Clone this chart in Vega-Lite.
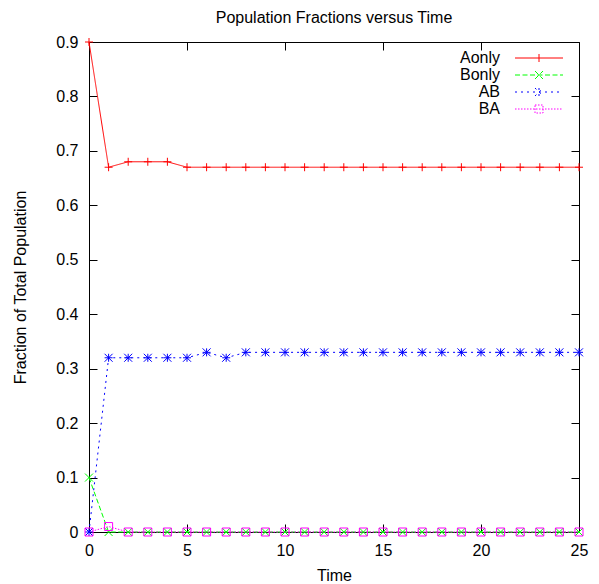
{
  "$schema": "https://vega.github.io/schema/vega-lite/v6.json",
  "width": 490,
  "height": 490,
  "autosize": {"type": "none"},
  "padding": {"left": 89, "top": 42, "right": 20, "bottom": 52},
  "background": "white",
  "config": {
    "font": "Liberation Sans",
    "view": {"stroke": "black", "strokeWidth": 1},
    "axis": {"grid": false, "domainColor": "black", "tickColor": "black", "labelColor": "black", "titleColor": "black", "labelFont": "Liberation Sans", "titleFont": "Liberation Sans", "labelFontSize": 16, "titleFontSize": 16, "titleFontWeight": "normal", "labelFlush": false}
  },
  "title": {"text": "Population Fractions versus Time", "fontSize": 16, "fontWeight": "normal", "font": "Liberation Sans", "color": "black", "anchor": "middle", "offset": 8},
  "data": {"values": [
    {"t":0,"s":"Aonly","v":0.9},{"t":1,"s":"Aonly","v":0.67},{"t":2,"s":"Aonly","v":0.68},{"t":3,"s":"Aonly","v":0.68},{"t":4,"s":"Aonly","v":0.68},{"t":5,"s":"Aonly","v":0.67},{"t":6,"s":"Aonly","v":0.67},{"t":7,"s":"Aonly","v":0.67},{"t":8,"s":"Aonly","v":0.67},{"t":9,"s":"Aonly","v":0.67},{"t":10,"s":"Aonly","v":0.67},{"t":11,"s":"Aonly","v":0.67},{"t":12,"s":"Aonly","v":0.67},{"t":13,"s":"Aonly","v":0.67},{"t":14,"s":"Aonly","v":0.67},{"t":15,"s":"Aonly","v":0.67},{"t":16,"s":"Aonly","v":0.67},{"t":17,"s":"Aonly","v":0.67},{"t":18,"s":"Aonly","v":0.67},{"t":19,"s":"Aonly","v":0.67},{"t":20,"s":"Aonly","v":0.67},{"t":21,"s":"Aonly","v":0.67},{"t":22,"s":"Aonly","v":0.67},{"t":23,"s":"Aonly","v":0.67},{"t":24,"s":"Aonly","v":0.67},{"t":25,"s":"Aonly","v":0.67},
    {"t":0,"s":"Bonly","v":0.1},{"t":1,"s":"Bonly","v":0},{"t":2,"s":"Bonly","v":0},{"t":3,"s":"Bonly","v":0},{"t":4,"s":"Bonly","v":0},{"t":5,"s":"Bonly","v":0},{"t":6,"s":"Bonly","v":0},{"t":7,"s":"Bonly","v":0},{"t":8,"s":"Bonly","v":0},{"t":9,"s":"Bonly","v":0},{"t":10,"s":"Bonly","v":0},{"t":11,"s":"Bonly","v":0},{"t":12,"s":"Bonly","v":0},{"t":13,"s":"Bonly","v":0},{"t":14,"s":"Bonly","v":0},{"t":15,"s":"Bonly","v":0},{"t":16,"s":"Bonly","v":0},{"t":17,"s":"Bonly","v":0},{"t":18,"s":"Bonly","v":0},{"t":19,"s":"Bonly","v":0},{"t":20,"s":"Bonly","v":0},{"t":21,"s":"Bonly","v":0},{"t":22,"s":"Bonly","v":0},{"t":23,"s":"Bonly","v":0},{"t":24,"s":"Bonly","v":0},{"t":25,"s":"Bonly","v":0},
    {"t":0,"s":"AB","v":0},{"t":1,"s":"AB","v":0.32},{"t":2,"s":"AB","v":0.32},{"t":3,"s":"AB","v":0.32},{"t":4,"s":"AB","v":0.32},{"t":5,"s":"AB","v":0.32},{"t":6,"s":"AB","v":0.33},{"t":7,"s":"AB","v":0.32},{"t":8,"s":"AB","v":0.33},{"t":9,"s":"AB","v":0.33},{"t":10,"s":"AB","v":0.33},{"t":11,"s":"AB","v":0.33},{"t":12,"s":"AB","v":0.33},{"t":13,"s":"AB","v":0.33},{"t":14,"s":"AB","v":0.33},{"t":15,"s":"AB","v":0.33},{"t":16,"s":"AB","v":0.33},{"t":17,"s":"AB","v":0.33},{"t":18,"s":"AB","v":0.33},{"t":19,"s":"AB","v":0.33},{"t":20,"s":"AB","v":0.33},{"t":21,"s":"AB","v":0.33},{"t":22,"s":"AB","v":0.33},{"t":23,"s":"AB","v":0.33},{"t":24,"s":"AB","v":0.33},{"t":25,"s":"AB","v":0.33},
    {"t":0,"s":"BA","v":0},{"t":1,"s":"BA","v":0.01},{"t":2,"s":"BA","v":0},{"t":3,"s":"BA","v":0},{"t":4,"s":"BA","v":0},{"t":5,"s":"BA","v":0},{"t":6,"s":"BA","v":0},{"t":7,"s":"BA","v":0},{"t":8,"s":"BA","v":0},{"t":9,"s":"BA","v":0},{"t":10,"s":"BA","v":0},{"t":11,"s":"BA","v":0},{"t":12,"s":"BA","v":0},{"t":13,"s":"BA","v":0},{"t":14,"s":"BA","v":0},{"t":15,"s":"BA","v":0},{"t":16,"s":"BA","v":0},{"t":17,"s":"BA","v":0},{"t":18,"s":"BA","v":0},{"t":19,"s":"BA","v":0},{"t":20,"s":"BA","v":0},{"t":21,"s":"BA","v":0},{"t":22,"s":"BA","v":0},{"t":23,"s":"BA","v":0},{"t":24,"s":"BA","v":0},{"t":25,"s":"BA","v":0}
  ]},
  "layer": [
    {
      "mark": {"type": "line", "strokeWidth": 1},
      "encoding": {
        "x": {"field": "t", "type": "quantitative", "scale": {"domain": [0, 25], "nice": false, "zero": false},
          "axis": {"orient": "bottom", "values": [0,5,10,15,20,25], "tickSize": -8, "labelPadding": 18, "domain": false, "title": "Time", "titleX": 245, "titleY": 43, "titleBaseline": "middle"}},
        "y": {"field": "v", "type": "quantitative", "scale": {"domain": [0, 0.9], "nice": false},
          "axis": {"orient": "left", "values": [0,0.1,0.2,0.3,0.4,0.5,0.6,0.7,0.8,0.9], "format": ".1~f", "tickSize": -8, "labelPadding": 19, "domain": false, "title": "Fraction of Total Population", "titleX": -69, "titleY": 245, "titleAngle": -90, "titleBaseline": "middle", "titleAlign": "center"}},
        "color": {"field": "s", "type": "nominal", "scale": {"domain": ["Aonly","Bonly","AB","BA"], "range": ["#ff0000","#00ff00","#0000ff","#ff00ff"]},
          "legend": {"orient": "none", "legendX": 442, "legendY": 8, "title": null, "padding": 0, "symbolSize": 64, "labelFontSize": 16, "labelColor": "black", "labelAlign": "right", "labelOffset": -47, "rowPadding": 1, "symbolStrokeWidth": 1,
            "encode": {"symbols": {"update": {
              "shape": {"signal": "datum.value === 'Aonly' ? 'M-6,0H6M0,-1V1' : datum.value === 'Bonly' ? 'M-6,0H6M-1,-1L1,1M-1,1L1,-1' : datum.value === 'AB' ? 'M-6,0H6M0,-1V1M-1,-1L1,1M-1,1L1,-1' : 'M-6,0H6M-1,-1H1V1H-1Z'"},
              "fill": {"value": "transparent"}
            }}}}},
        "strokeDash": {"field": "s", "type": "nominal", "scale": {"domain": ["Aonly","Bonly","AB","BA"], "range": [[1,0],[5,2.5],[2,4],[1.5,1.5]]}}
      }
    },
    {
      "transform": [{"filter": "datum.s === 'Aonly'"}],
      "mark": {"type": "point", "filled": false, "strokeWidth": 1, "size": 64, "opacity": 1, "shape": "M-1,0H1M0,-1V1"},
      "encoding": {
        "x": {"field": "t", "type": "quantitative", "axis": {"orient": "top", "values": [0,5,10,15,20,25], "tickSize": -8, "labels": false, "domain": false, "title": null}},
        "y": {"field": "v", "type": "quantitative", "axis": {"orient": "right", "values": [0,0.1,0.2,0.3,0.4,0.5,0.6,0.7,0.8,0.9], "tickSize": -8, "labels": false, "domain": false, "title": null}},
        "color": {"field": "s", "type": "nominal", "legend": null}
      }
    },
    {
      "transform": [{"filter": "datum.s === 'Bonly'"}],
      "mark": {"type": "point", "filled": false, "strokeWidth": 1, "size": 64, "opacity": 1, "shape": "M-1,-1L1,1M-1,1L1,-1"},
      "encoding": {
        "x": {"field": "t", "type": "quantitative", "axis": null},
        "y": {"field": "v", "type": "quantitative", "axis": null},
        "color": {"field": "s", "type": "nominal", "legend": null}
      }
    },
    {
      "transform": [{"filter": "datum.s === 'AB'"}],
      "mark": {"type": "point", "filled": false, "strokeWidth": 1, "size": 64, "opacity": 1, "shape": "M-1,0H1M0,-1V1M-1,-1L1,1M-1,1L1,-1"},
      "encoding": {
        "x": {"field": "t", "type": "quantitative", "axis": null},
        "y": {"field": "v", "type": "quantitative", "axis": null},
        "color": {"field": "s", "type": "nominal", "legend": null}
      }
    },
    {
      "transform": [{"filter": "datum.s === 'BA'"}],
      "mark": {"type": "point", "filled": false, "strokeWidth": 1, "size": 64, "opacity": 1, "shape": "square"},
      "encoding": {
        "x": {"field": "t", "type": "quantitative", "axis": null},
        "y": {"field": "v", "type": "quantitative", "axis": null},
        "color": {"field": "s", "type": "nominal", "legend": null}
      }
    }
  ],
  "resolve": {"axis": {"x": "independent", "y": "independent"}}
}
